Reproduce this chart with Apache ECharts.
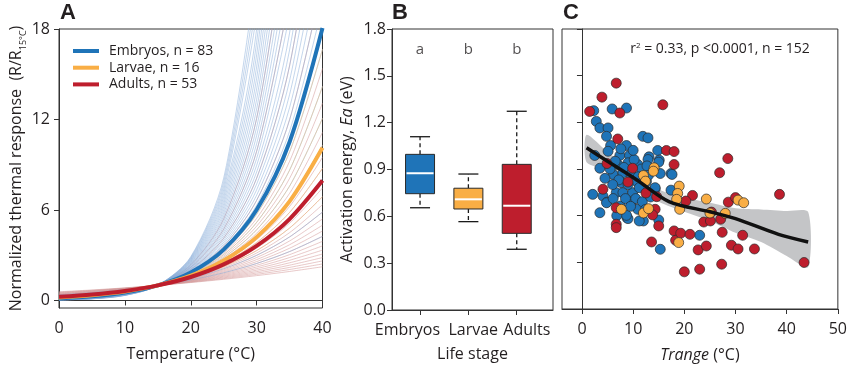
<!DOCTYPE html>
<html><head><meta charset="utf-8">
<script src="https://cdn.jsdelivr.net/npm/echarts@6/dist/echarts.min.js"></script>
<style>html,body{margin:0;padding:0;background:#fff}#c{width:850px;height:369px}</style>
</head><body><div id="c"></div>
<script>
// ---------- Panel A: thermal response curves (values read at these temperatures) ----------
const curveTemps = [0, 5, 10, 15, 20, 25, 30, 35, 40];
const embryoMeanCurve = [0.137, 0.272, 0.527, 1, 1.856, 3.372, 6.010, 10.51, 18.06];
const larvaeMeanCurve = [0.203, 0.353, 0.599, 1, 1.640, 2.645, 4.199, 6.566, 10.12];
const adultMeanCurve  = [0.240, 0.393, 0.632, 1, 1.557, 2.390, 3.616, 5.397, 7.95];
const embryoCurves = [
  [0.370,0.521,0.726,1,1.362,1.836,2.452,3.242,4.250],
  [0.296,0.451,0.676,1,1.459,2.102,2.992,4.211,5.861],
  [0.238,0.390,0.630,1,1.563,2.406,3.652,5.468,8.083],
  [0.201,0.350,0.597,1,1.645,2.663,4.240,6.653,10.29],
  [0.180,0.326,0.576,1,1.703,2.849,4.685,7.581,12.08],
  [0.161,0.303,0.556,1,1.762,3.047,5.175,8.640,14.19],
  [0.144,0.282,0.537,1,1.824,3.260,5.717,9.847,16.66],
  [0.129,0.262,0.518,1,1.888,3.488,6.317,11.22,19.57],
  [0.122,0.253,0.509,1,1.920,3.608,6.639,11.98,21.21],
  [0.116,0.244,0.500,1,1.954,3.732,6.978,12.79,22.98],
  [0.110,0.235,0.491,1,1.988,3.860,7.335,13.65,24.90],
  [0.104,0.227,0.482,1,2.022,3.993,7.710,14.57,26.99],
  [0.098,0.219,0.474,1,2.057,4.130,8.103,15.56,29.25],
  [0.093,0.211,0.466,1,2.093,4.272,8.517,16.61,31.70],
  [0.088,0.203,0.457,1,2.129,4.419,8.952,17.73,34.34],
  [0.083,0.196,0.449,1,2.166,4.570,9.410,18.93],
  [0.079,0.189,0.441,1,2.203,4.727,9.890,20.20],
  [0.074,0.182,0.434,1,2.241,4.889,10.39,21.57],
  [0.070,0.176,0.426,1,2.280,5.057,10.93,23.03],
  [0.067,0.170,0.418,1,2.320,5.231,11.48,24.58],
  [0.063,0.164,0.411,1,2.360,5.411,12.07,26.24],
  [0.060,0.158,0.404,1,2.401,5.597,12.69,28.01],
  [0.056,0.152,0.397,1,2.442,5.788,13.33,29.90],
  [0.053,0.147,0.390,1,2.485,5.988,14.02,31.92],
  [0.051,0.142,0.383,1,2.528,6.193,14.73,34.10],
  [0.048,0.137,0.376,1,2.572,6.406,15.48,36.40],
  [0.045,0.132,0.369,1,2.616,6.626,16.28,38.80],
  [0.043,0.127,0.363,1,2.661,6.853,17.11,41.50],
  [0.040,0.123,0.357,1,2.707,7.088,17.98,44.30],
  [0.038,0.118,0.350,1,2.754,7.332,18.90],
  [0.036,0.114,0.344,1,2.802,7.584,19.86],
  [0.034,0.110,0.338,1,2.851,7.844,20.88],
  [0.032,0.106,0.332,1,2.900,8.114,21.94]
];
const larvaeCurves = [
  [0.265,0.420,0.653,1,1.510,2.249,3.305,4.799,6.883],
  [0.225,0.376,0.619,1,1.590,2.489,3.838,5.837,8.760],
  [0.201,0.350,0.597,1,1.645,2.663,4.240,6.653,10.29],
  [0.180,0.326,0.576,1,1.703,2.849,4.685,7.581,12.08],
  [0.161,0.303,0.556,1,1.762,3.047,5.175,8.640,14.19],
  [0.144,0.282,0.537,1,1.824,3.260,5.717,9.847,16.66]
];
const adultCurves = [
  [0.575,0.696,0.837,1,1.187,1.402,1.646,1.922,2.234],
  [0.544,0.672,0.822,1,1.208,1.450,1.730,2.052,2.421],
  [0.515,0.648,0.808,1,1.229,1.500,1.818,2.191,2.623],
  [0.487,0.625,0.794,1,1.250,1.551,1.911,2.339,2.843],
  [0.461,0.602,0.780,1,1.272,1.604,2.008,2.496,3.081],
  [0.436,0.581,0.766,1,1.294,1.659,2.111,2.665,3.339],
  [0.413,0.560,0.752,1,1.316,1.717,2.219,2.845,3.618],
  [0.391,0.540,0.739,1,1.339,1.775,2.332,3.037,3.921],
  [0.370,0.521,0.726,1,1.362,1.836,2.452,3.242,4.250],
  [0.350,0.503,0.713,1,1.386,1.900,2.577,3.461,4.605],
  [0.331,0.485,0.701,1,1.410,1.965,2.708,3.695,4.990],
  [0.313,0.468,0.688,1,1.434,2.032,2.847,3.944,5.408],
  [0.296,0.451,0.676,1,1.459,2.102,2.992,4.211,5.861],
  [0.280,0.435,0.664,1,1.484,2.174,3.145,4.495,6.351],
  [0.265,0.420,0.653,1,1.510,2.249,3.305,4.799,6.883],
  [0.251,0.405,0.641,1,1.536,2.326,3.474,5.122,7.459],
  [0.225,0.376,0.619,1,1.590,2.489,3.838,5.837,8.760],
  [0.213,0.363,0.608,1,1.617,2.574,4.034,6.232,9.493],
  [0.190,0.338,0.587,1,1.674,2.754,4.457,7.101,11.15],
  [0.170,0.314,0.566,1,1.732,2.947,4.924,8.093,13.09],
  [0.153,0.292,0.546,1,1.793,3.152,5.440,9.223,15.38],
  [0.122,0.253,0.509,1,1.920,3.608,6.639,11.98,21.21],
  [0.098,0.219,0.474,1,2.057,4.130,8.103,15.56,29.25],
  [0.079,0.189,0.441,1,2.203,4.727,9.890,20.20],
  [0.063,0.164,0.411,1,2.360,5.411,12.07,26.24]
];
const legendNames = ['Embryos, n = 83', 'Larvae, n = 16', 'Adults, n = 53'];
const xTicksA = [0, 10, 20, 30, 40];
const yTicksA = [0, 6, 12, 18];

// ---------- Panel B: activation energy box plots [min, Q1, median, Q3, max] ----------
const stageNames = ['Embryos', 'Larvae', 'Adults'];
const stagePos = [1, 2, 3];
const stageLabelPos = [0.74, 2.1, 3.21];
const boxStats = [
  [0.655, 0.745, 0.876, 0.997, 1.110],
  [0.566, 0.647, 0.709, 0.780, 0.871],
  [0.389, 0.491, 0.668, 0.933, 1.273]
];
const groupLetters = ['a', 'b', 'b'];
const letterLevel = 1.67;

// ---------- Panel C: Ea vs Trange ----------
const embryoPoints = [
  [5.9,1.286],[8.7,1.292],[2.3,1.275],[2.8,1.206],[3.5,1.164],[5.1,1.164],[4.8,1.11],[11.9,1.11],
  [12.9,1.10],[5.6,1.051],[8.7,1.051],[5.1,1.014],[2.5,0.987],[7.4,0.987],[9.3,0.987],[13.1,0.978],
  [14.8,1.019],[15.1,0.957],[3.5,0.905],[7.0,0.929],[9.0,0.94],[10.9,0.929],[12.9,0.961],[15.0,0.944],
  [6.1,0.865],[8.0,0.876],[9.6,0.865],[15.3,0.871],[17.4,0.871],[7.7,0.812],[10.6,0.822],[6.7,0.748],
  [8.0,0.748],[9.9,0.748],[14.3,0.773],[17.4,0.764],[2.1,0.737],[4.1,0.726],[4.9,0.687],[9.6,0.687],
  [10.9,0.641],[3.5,0.619],[8.8,0.587],[12.0,0.566],[15.0,0.572],[15.3,0.384],[23.0,0.474],[17.6,0.865],
  [14.3,0.78],[9.0,0.581],[8.7,0.602],[7.5,0.662],[4.8,0.683],[11.2,0.566],
  [6.5,0.95],[8.2,0.91],[10.2,0.96],[11.6,0.90],[7.2,0.83],[9.0,0.80],[11.2,0.78],[12.6,0.82],
  [6.0,0.80],[5.5,0.90],[4.5,0.84],[8.5,0.71],[10.5,0.71],[11.8,0.69],[6.1,0.71],[13.4,0.72],
  [12.7,0.92],[10.0,1.02],[7.6,1.03],[11.0,0.85],[13.0,0.86],[9.5,0.66],[6.8,0.60],[12.4,0.64]
];
const adultPoints = [
  [6.7,1.452],[3.9,1.362],[15.8,1.313],[7.4,1.26],[1.5,1.27],[7.0,1.093],[16.5,1.019],[18.0,1.012],
  [18.0,0.929],[4.9,0.935],[9.9,0.905],[9.0,0.816],[12.5,0.746],[14.6,0.722],[4.1,0.77],[6.7,0.651],
  [14.3,0.641],[13.8,0.605],[6.7,0.545],[6.7,0.523],[15.0,0.534],[13.6,0.431],[18.0,0.502],[18.3,0.442],
  [19.3,0.487],[21.1,0.48],[28.5,0.967],[26.9,0.876],[21.6,0.73],[20.3,0.694],[28.6,0.687],[30.0,0.716],
  [25.3,0.623],[23.8,0.559],[25.1,0.566],[27.1,0.577],[27.4,0.493],[31.4,0.474],[22.7,0.38],[24.3,0.405],
  [29.2,0.41],[30.5,0.386],[33.7,0.386],[20.0,0.239],[23.0,0.256],[27.3,0.288],[38.6,0.737],[43.4,0.299]
];
const larvaePoints = [
  [14.1,0.908],[12.0,0.858],[13.95,0.886],[12.4,0.822],[7.7,0.641],[12.0,0.617],[13.0,0.645],[18.9,0.427],
  [19.0,0.79],[18.7,0.743],[18.5,0.705],[19.1,0.641],[24.3,0.707],[30.5,0.70],[31.6,0.683],[25.0,0.617],[28.0,0.615]
];
const fitX = [0.9, 5, 10.6, 17, 25, 30, 38.4, 44.2];
const fitY = [1.036, 0.95, 0.833, 0.69, 0.625, 0.581, 0.48, 0.431];
const bandX  = [0.9, 5, 10, 15, 20, 25, 30, 35, 40, 44.2];
const bandHi = [1.12, 1.01, 0.885, 0.77, 0.715, 0.683, 0.648, 0.64, 0.63, 0.623];
const bandLo = [0.944, 0.895, 0.80, 0.69, 0.625, 0.566, 0.49, 0.43, 0.34, 0.27];
const xTicksC = [0, 10, 20, 30, 40, 50];
const statText = ['r', '2', ' = 0.33, p <0.0001, n = 152'];

// ---------- styling ----------
const FONT = 'Open Sans';
const INK = '#231f20';
const BLUE = '#1f74b8', ORANGE = '#f9ae45', RED = '#be1e2d';
const THIN = { blue: '#86acd9', orange: '#f2bd78', red: '#d09090' };

function curveData(row) { return row.map((v, i) => [curveTemps[i], v]); }

const series = [];
function addThin(rows, color) {
  rows.forEach(r => series.push({
    type: 'line', xAxisIndex: 0, yAxisIndex: 0, data: curveData(r), smooth: 0.3,
    showSymbol: false, silent: true, z: 1,
    lineStyle: { color: color, width: 0.9, opacity: 0.55 }
  }));
}
addThin(adultCurves, THIN.red);
addThin(embryoCurves, THIN.blue);
addThin(larvaeCurves, THIN.orange);
[[embryoMeanCurve, BLUE, 0], [larvaeMeanCurve, ORANGE, 1], [adultMeanCurve, RED, 2]].forEach(([row, col, k]) => {
  series.push({
    name: legendNames[k], type: 'line', xAxisIndex: 0, yAxisIndex: 0, data: curveData(row),
    smooth: 0.3, showSymbol: false, z: 3, color: col,
    lineStyle: { color: col, width: 4 }
  });
});

// Panel B box plots
const boxColors = [BLUE, ORANGE, RED];
series.push({
  type: 'custom', xAxisIndex: 1, yAxisIndex: 1,
  data: boxStats.map((s, i) => [stagePos[i]].concat(s)),
  encode: { x: 0, y: [1, 2, 3, 4, 5] },
  renderItem: function (params, api) {
    const x = api.value(0);
    const p = [1, 2, 3, 4, 5].map(d => api.coord([x, api.value(d)]));
    const cx = p[0][0];
    const yMin = p[0][1], yQ1 = p[1][1], yMed = p[2][1], yQ3 = p[3][1], yMax = p[4][1];
    const half = 14.5, cap = 10;
    const dash = { stroke: '#1a1a1a', lineWidth: 1.3, lineDash: [4, 3] };
    const solid = { stroke: '#1a1a1a', lineWidth: 1.3 };
    return {
      type: 'group', children: [
        { type: 'line', shape: { x1: cx, y1: yQ3, x2: cx, y2: yMax }, style: dash },
        { type: 'line', shape: { x1: cx, y1: yQ1, x2: cx, y2: yMin }, style: dash },
        { type: 'line', shape: { x1: cx - cap, y1: yMax, x2: cx + cap, y2: yMax }, style: solid },
        { type: 'line', shape: { x1: cx - cap, y1: yMin, x2: cx + cap, y2: yMin }, style: solid },
        { type: 'rect', shape: { x: cx - half, y: yQ3, width: 2 * half, height: yQ1 - yQ3 },
          style: { fill: boxColors[params.dataIndex], stroke: '#2a2a2a', lineWidth: 1 } },
        { type: 'line', shape: { x1: cx - half + 1, y1: yMed, x2: cx + half - 1, y2: yMed },
          style: { stroke: '#ffffff', lineWidth: 2 } }
      ]
    };
  }
});
series.push({
  type: 'scatter', xAxisIndex: 1, yAxisIndex: 1, symbolSize: 0, silent: true,
  data: groupLetters.map((t, i) => [stagePos[i], letterLevel, t]),
  label: { show: true, position: 'inside', formatter: p => p.value[2],
           fontFamily: FONT, fontSize: 15, color: INK }
});

// Panel C band, points, fit
series.push({
  type: 'custom', xAxisIndex: 2, yAxisIndex: 2, z: 1, silent: true,
  data: bandX.map((x, i) => [x, bandLo[i], bandHi[i]]),
  encode: { x: 0, y: [1, 2] },
  renderItem: function (params, api) {
    if (params.dataIndex !== 0) return null;
    const pts = [];
    bandX.forEach((x, i) => pts.push(api.coord([x, bandHi[i]])));
    for (let i = bandX.length - 1; i >= 0; i--) pts.push(api.coord([bandX[i], bandLo[i]]));
    return { type: 'polygon', shape: { points: pts, smooth: 0.25 }, style: { fill: '#c4c5c7' } };
  }
});
function pts(data, color) {
  series.push({
    type: 'scatter', xAxisIndex: 2, yAxisIndex: 2, data: data, symbolSize: 10, z: 2,
    itemStyle: { color: color, borderColor: '#2b2b2b', borderWidth: 0.7, opacity: 1 }
  });
}
pts(embryoPoints, BLUE);
pts(adultPoints, RED);
pts(larvaePoints, ORANGE);
series.push({
  type: 'line', xAxisIndex: 2, yAxisIndex: 2, data: fitX.map((x, i) => [x, fitY[i]]),
  smooth: 0.3, showSymbol: false, z: 4, lineStyle: { color: '#111', width: 3.5 }
});

const axisCommon = {
  axisLine: { show: true, lineStyle: { color: '#333', width: 1 } },
  axisTick: { show: true, length: 5, lineStyle: { color: '#333', width: 1 } },
  splitLine: { show: false },
  nameTextStyle: { fontFamily: FONT, fontSize: 16, color: INK },
  axisLabel: { fontFamily: FONT, fontSize: 16, color: INK }
};
function ax(extra) {
  const o = JSON.parse(JSON.stringify(axisCommon));
  for (const k in extra) {
    if (typeof extra[k] === 'object' && !Array.isArray(extra[k]) && o[k]) Object.assign(o[k], extra[k]);
    else o[k] = extra[k];
  }
  return o;
}

const option = {
  animation: false,
  backgroundColor: '#fff',
  grid: [
    { left: 59, top: 29, width: 263.5, height: 279, show: true, borderColor: '#333', borderWidth: 1 },
    { left: 392, top: 29, width: 161, height: 281, show: true, borderColor: '#333', borderWidth: 1 },
    { left: 562, top: 29, width: 278, height: 280, show: true, borderColor: '#333', borderWidth: 1 }
  ],
  legend: {
    data: legendNames, left: 68, top: 39, orient: 'vertical', itemGap: 2.7,
    itemWidth: 26, itemHeight: 4, icon: 'rect',
    textStyle: { fontFamily: FONT, fontSize: 14, color: INK, lineHeight: 14, padding: [0, 0, 0, 5] }
  },
  xAxis: [
    ax({ gridIndex: 0, type: 'value', min: 0, max: 40,
         axisTick: { customValues: xTicksA }, axisLabel: { customValues: xTicksA, margin: 12 },
         name: 'Temperature (°C)', nameLocation: 'middle', nameGap: 38 }),
    ax({ gridIndex: 1, type: 'value', min: 0.42, max: 3.75,
         axisTick: { customValues: stagePos },
         axisLabel: { customValues: stageLabelPos, margin: 12,
                      formatter: v => stageNames[stageLabelPos.indexOf(v)] || '' },
         name: 'Life stage', nameLocation: 'middle', nameGap: 36 }),
    ax({ gridIndex: 2, type: 'value', min: -3.9, max: 50,
         axisTick: { customValues: xTicksC }, axisLabel: { customValues: xTicksC, margin: 12 },
         name: '{i|Trange} (°C)', nameLocation: 'middle', nameGap: 38,
         nameTextStyle: { rich: { i: { fontFamily: FONT, fontSize: 16, fontStyle: 'italic', color: INK } } } })
  ],
  yAxis: [
    ax({ gridIndex: 0, type: 'value', min: -0.5, max: 18,
         axisTick: { customValues: yTicksA }, axisLabel: { customValues: yTicksA, margin: 9 },
         name: 'Normalized thermal response  (R/R{s|15°C})', nameLocation: 'middle', nameGap: 31,
         nameTextStyle: { rich: { s: { fontFamily: FONT, fontSize: 9, color: INK, verticalAlign: 'bottom', lineHeight: 22 } } } }),
    ax({ gridIndex: 1, type: 'value', min: 0, max: 1.8, interval: 0.3,
         axisLabel: { margin: 6, formatter: v => v.toFixed(1) },
         name: 'Activation energy, {i|Ea} (eV)', nameLocation: 'middle', nameGap: 37,
         nameTextStyle: { rich: { i: { fontFamily: FONT, fontSize: 16, fontStyle: 'italic', color: INK } } } }),
    ax({ gridIndex: 2, type: 'value', min: 0, max: 1.8, interval: 0.3,
         axisLabel: { show: false } })
  ],
  graphic: [
    { type: 'text', left: 60, top: 2, style: { text: 'A', font: 'bold 22px "Liberation Sans"', fill: INK } },
    { type: 'text', left: 392, top: 2, style: { text: 'B', font: 'bold 22px "Liberation Sans"', fill: INK } },
    { type: 'text', left: 563, top: 2, style: { text: 'C', font: 'bold 22px "Liberation Sans"', fill: INK } },
    { type: 'text', x: 720, y: 49, style: {
        text: '{a|' + statText[0] + '}{p|' + statText[1] + '}{a|' + statText[2] + '}',
        align: 'center', verticalAlign: 'middle',
        rich: { a: { fontFamily: FONT, fontSize: 14, fill: INK, color: INK },
                p: { fontFamily: FONT, fontSize: 8, verticalAlign: 'top', fill: INK, color: INK } } } }
  ],
  series: series
};
const chart = echarts.init(document.getElementById('c'), null, { renderer: 'canvas' });
chart.setOption(option);
</script>
</body></html>
